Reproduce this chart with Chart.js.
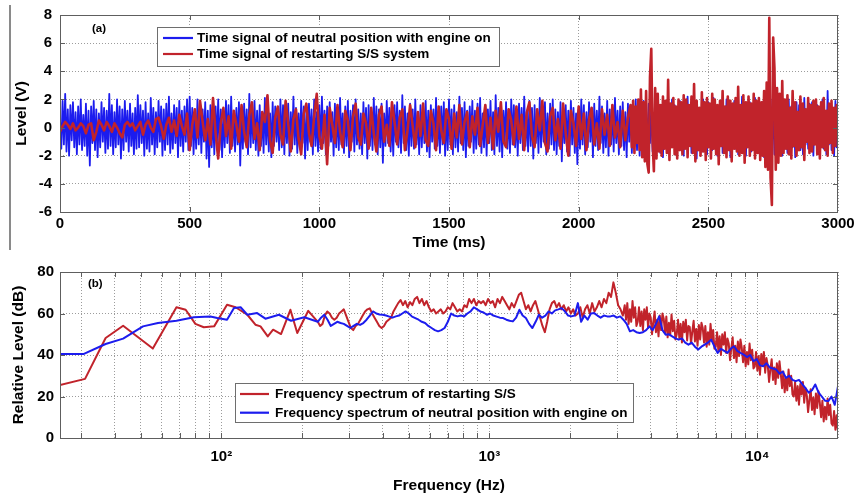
<!DOCTYPE html>
<html><head><meta charset="utf-8">
<script src="https://cdn.jsdelivr.net/npm/chart.js@4.4.1/dist/chart.umd.min.js"></script>
<style>
html,body{margin:0;padding:0;background:#fff;}
#wrap{position:relative;width:856px;height:498px;overflow:hidden;background:#fff;}
#c1{position:absolute;left:0;top:0;}
#c2{position:absolute;left:0;top:250px;}
#bar{position:absolute;left:9px;top:5px;width:2px;height:245px;background:#8a8a8a;z-index:5;}
</style></head><body>
<div id="wrap"><canvas id="c1" width="856" height="250"></canvas><canvas id="c2" width="856" height="248"></canvas><div id="bar"></div></div>
<script>
// ---------------- (a) time signals ----------------
const timeTicks = [0, 500, 1000, 1500, 2000, 2500, 3000];
const levelTicks = [-6, -4, -2, 0, 2, 4, 6, 8];

// neutral position, engine on: one sample every 5 ms, 0..3000 ms
const neutralStepMs = 5;
const neutralSignal = [
 0.6,-1.5,1.9,-1.2,2.4,-1.7,1.3,-2.0,1.6,-0.9,1.8,-1.4,1.1,-1.9,1.5,-1.2,2.0,-1.6,0.9,-1.3,
 1.7,-2.0,1.2,-2.7,1.5,-1.1,1.9,-1.6,1.3,-2.1,1.0,-1.4,1.8,-1.0,1.4,-1.8,1.2,-1.5,2.4,-1.3,
 1.6,-1.9,1.1,-1.4,2.0,-1.2,1.5,-2.2,1.3,-1.6,1.9,-1.0,1.2,-1.7,1.7,-1.3,1.0,-1.9,1.4,-1.5,
 2.3,-1.4,1.6,-1.1,1.2,-2.0,1.8,-1.5,1.0,-1.7,2.1,-1.2,1.4,-1.9,1.1,-1.4,1.9,-1.0,1.5,-2.0,
 1.3,-1.6,1.7,-1.2,2.2,-1.8,1.0,-1.5,1.6,-1.1,1.4,-2.1,1.9,-1.3,1.2,-1.7,1.5,-1.0,2.0,-1.6,
 2.2,-1.3,1.4,-1.9,1.1,-1.5,2.0,-1.2,1.7,-1.8,1.3,-1.0,1.8,-2.2,1.2,-2.8,1.6,-1.4,1.0,-1.9,
 1.5,-1.2,2.0,-1.6,1.3,-2.1,1.1,-1.4,1.9,-1.1,1.6,-1.8,2.2,-1.3,1.0,-1.7,1.4,-1.2,1.8,-2.7,
 1.2,-1.5,1.7,-1.0,1.3,-1.9,2.4,-1.4,1.5,-1.1,1.9,-1.6,1.2,-2.0,1.6,-1.3,1.1,-1.8,2.1,-1.2,
 1.4,-1.7,1.0,-2.1,1.8,-1.3,1.5,-1.0,1.2,-1.6,2.0,-1.4,1.6,-1.9,1.3,-1.1,1.7,-2.0,1.1,-1.5,
 2.2,-1.2,1.4,-1.8,1.0,-1.4,1.9,-1.1,1.5,-2.2,1.2,-1.6,1.7,-1.0,1.3,-1.9,2.0,-1.3,1.1,-1.7,
 1.6,-1.5,2.2,-1.1,1.2,-1.9,1.5,-1.3,1.8,-1.0,1.1,-2.0,1.7,-1.4,1.4,-1.6,2.1,-1.2,1.0,-1.8,
 1.5,-1.3,1.9,-2.1,1.2,-1.0,1.6,-1.7,2.0,-1.2,1.3,-1.5,1.0,-1.9,1.8,-1.1,1.4,-2.2,1.6,-1.3,
 1.1,-1.6,2.1,-1.2,1.5,-1.9,1.3,-1.4,1.7,-2.5,1.0,-1.3,1.9,-1.1,1.4,-1.7,1.2,-2.0,1.6,-1.0,
 1.8,-1.4,1.2,-1.8,2.3,-1.1,1.5,-1.6,1.0,-2.0,1.7,-1.3,1.3,-1.5,2.0,-1.2,1.1,-1.9,1.6,-1.4,
 1.4,-1.1,1.9,-1.7,1.2,-2.1,1.6,-1.0,1.3,-1.5,2.1,-1.3,1.0,-1.8,1.5,-1.2,1.8,-2.0,1.1,-1.6,
 2.0,-1.2,1.3,-1.9,1.6,-1.4,1.1,-1.7,2.2,-1.1,1.4,-1.6,1.8,-2.1,1.2,-1.3,1.5,-1.0,1.9,-1.8,
 1.2,-1.5,1.7,-1.2,2.1,-1.8,1.0,-1.4,1.6,-2.0,1.3,-1.1,1.9,-1.6,1.1,-1.9,2.3,-1.3,1.4,-1.7,
 1.5,-2.1,1.2,-1.0,1.8,-1.5,1.3,-1.8,2.0,-1.2,1.6,-1.4,1.0,-2.0,1.7,-1.1,1.4,-1.6,2.2,-1.3,
 1.1,-1.7,1.9,-1.3,1.4,-2.2,1.6,-1.1,1.2,-1.8,2.1,-1.4,1.5,-1.0,1.8,-1.9,1.0,-1.5,1.7,-1.2,
 2.0,-1.6,1.3,-1.9,1.1,-1.3,1.8,-2.4,1.5,-1.1,1.6,-1.7,1.2,-2.0,1.9,-1.2,1.4,-1.8,1.0,-2.6,
 1.3,-1.5,2.0,-1.2,1.6,-1.9,1.1,-1.4,1.8,-1.0,1.4,-2.1,1.7,-1.3,1.2,-1.6,2.2,-1.1,1.5,-1.8,
 1.0,-1.4,1.9,-2.0,1.3,-1.2,1.6,-1.7,2.1,-1.1,1.2,-1.9,1.5,-1.3,1.8,-1.6,1.1,-2.1,1.7,-1.0,
 1.6,-1.8,1.2,-1.3,2.0,-1.6,1.4,-2.0,1.1,-1.2,1.9,-1.5,1.3,-1.9,1.7,-1.1,1.5,-1.7,1.0,-1.4,
 2.1,-1.3,1.4,-1.8,1.2,-2.1,1.8,-1.0,1.5,-1.6,1.1,-1.4,2.0,-1.2,1.6,-1.9,1.3,-1.5,1.9,-1.1,
 1.2,-2.0,1.7,-1.4,2.2,-1.2,1.1,-1.8,1.6,-1.3,1.9,-2.2,1.4,-1.0,1.3,-1.7,2.0,-1.5,1.2,-1.9,
 1.8,-1.1,1.3,-1.6,2.1,-1.4,1.0,-2.0,1.5,-1.2,1.7,-1.8,1.2,-1.3,2.0,-1.6,1.4,-2.1,1.1,-1.2,
 1.9,-1.5,1.2,-1.9,1.6,-1.1,2.2,-1.4,1.3,-2.0,1.5,-1.2,1.8,-1.7,1.0,-1.5,2.1,-1.3,1.4,-1.8,
 1.3,-1.2,1.8,-2.1,1.1,-1.6,1.7,-1.0,2.0,-1.4,1.2,-1.9,1.6,-1.3,1.9,-1.1,1.4,-2.0,1.5,-1.5,
 1.1,-1.8,2.0,-1.2,1.5,-1.4,1.2,-2.1,1.8,-1.0,1.6,-1.6,1.3,-1.9,2.1,-1.2,1.0,-1.5,1.7,-1.3,
 1.8,-2.0,1.2,-1.1,1.6,-1.7,1.4,-1.3,2.0,-1.5,1.1,-1.9,2.6,-1.2,1.5,-1.6,1.3,-2.0,1.9,-1.4,
 0.5
];

// restarting S/S: every 10 ms from 0 to 2190 ms, then every 5 ms from 2200 to 3000 ms
const restartEarlyStepMs = 10;
const restartSignalEarly = [
 -0.3,0.1,0.4,0.2,-0.1,0.3,-0.2,0.0,0.3,0.1,-0.4,0.2,0.3,-0.9,-0.3,0.5,0.2,-0.2,0.4,0.1,
 -0.3,0.3,0.0,-0.4,-0.7,0.2,0.4,0.1,0.3,-0.2,0.1,0.4,-0.5,0.2,0.5,0.0,-0.3,0.6,0.7,0.1,
 -0.8,0.2,0.7,-0.3,0.5,-0.6,0.9,0.1,-0.5,1.0,-1.6,0.2,1.3,-0.7,1.9,0.4,-0.9,0.6,-1.2,2.1,
 -0.4,-2.2,0.3,1.4,-0.6,0.8,-1.5,1.2,0.2,-1.0,1.6,-0.3,-1.4,0.9,1.8,-0.8,0.3,-1.6,1.1,0.4,
 2.3,-0.9,-1.8,0.7,1.5,-0.5,-1.2,1.9,0.3,-1.7,0.6,1.3,-0.8,-1.9,1.0,1.7,-0.4,-1.3,0.8,2.4,
 -0.6,-1.5,0.9,-2.6,1.4,0.2,-1.1,1.6,-0.3,-1.4,1.2,0.5,-1.6,0.8,1.7,-0.7,-1.2,1.0,0.3,-1.5,
 1.4,-0.4,-1.7,0.9,1.5,-1.0,0.2,-1.3,1.8,0.4,-1.2,0.7,1.3,-1.6,-0.2,1.6,0.1,-1.4,1.1,-0.6,
 1.7,-0.9,-1.3,1.2,0.3,-1.6,1.5,-0.2,-1.1,1.3,0.6,-1.5,1.0,-0.7,1.6,-1.2,0.4,1.1,-1.4,0.8,
 -0.5,1.4,-1.3,0.2,1.6,-1.1,0.7,-1.5,1.2,-0.3,1.8,-1.0,-1.4,1.3,0.5,-1.2,1.5,-0.8,0.9,-1.6,
 1.1,1.8,-0.6,-1.4,1.3,-0.2,1.9,-1.1,-1.7,0.8,1.4,-0.9,0.6,-1.5,1.7,-0.4,-2.0,1.2,0.3,-1.3,
 1.5,-0.8,1.0,-1.6,0.6,1.4,-1.2,0.3,-1.5,1.3,-0.5,0.9,-1.3,1.6,-0.7,0.4,-1.4,1.2,-0.9,0.7
];
const restartLateStartMs = 2200, restartLateStepMs = 5;
const restartSignalLate = [
 1.6,-1.4,1.9,-1.8,1.5,-1.1,2.0,-1.6,2.7,-2.1,1.8,-2.4,2.6,-2.6,-3.2,3.6,5.6,-1.0,-3.1,2.8,
 -2.2,2.4,-1.7,1.6,-2.0,2.2,-1.5,1.9,-1.8,3.4,-2.3,1.7,-1.4,2.1,-1.9,1.5,-2.2,2.0,-1.6,1.8,
 -1.9,2.3,-1.5,2.0,-2.1,1.6,-1.3,2.2,-1.8,3.1,-2.4,1.9,-1.6,1.4,-2.0,2.5,-1.7,1.8,-2.3,2.1,
 -1.4,1.7,-2.2,2.4,-1.5,2.0,-1.9,1.6,-2.6,1.9,-1.3,2.6,-1.8,1.5,-2.1,2.2,-1.6,1.9,-2.4,1.7,
 -1.5,2.1,-1.7,2.9,-2.0,1.6,-1.8,2.3,-2.5,1.8,-1.4,2.2,-2.0,1.7,-1.6,2.4,-2.2,1.9,-1.8,2.1,
 -2.3,1.8,-2.0,2.6,-2.8,3.2,-3.0,7.8,-3.6,-5.5,6.4,4.2,-3.0,2.8,-2.5,2.4,-2.0,3.3,-1.8,2.0,
 -1.5,2.3,-1.9,1.4,-2.2,2.6,-1.3,1.8,-2.0,1.1,-1.6,2.2,-1.4,1.7,-2.3,1.3,-1.0,2.1,-1.8,1.6,
 -1.7,1.9,-1.2,2.0,-1.9,1.5,-2.2,1.8,-1.4,2.1,-1.6,1.2,-2.0,1.7,-1.1,1.9,-1.8,1.4,-1.3,1.6,
 0.8
];

// ---------------- (b) spectra ----------------
const freqMinHz = 25, freqMaxHz = 20000;
const freqGridHz = [30,40,50,60,70,80,90,100,200,300,400,500,600,700,800,900,1000,2000,3000,4000,5000,6000,7000,8000,9000,10000,20000];
const freqTickLabels = {100: '10\u00B2', 1000: '10\u00B3', 10000: '10\u2074'};
const dbTicks = [0, 20, 40, 60, 80];

// low-frequency vertices (Hz, dB)
const lowFreqRestart = [25,31,37,43,55.5,68,73.6,80,86,94,105,113,125,134,140,149,156,167,181,192,211];
const lowDbRestart   = [25.5,28.5,48.2,54.1,43.1,63,61.8,55,53.4,53.8,64.2,63,59.4,54.6,53.8,49,52.2,50.1,61.8,50.6,61.3];
const lowFreqNeutral = [25,30.7,37,43,51,58,68,79,91,96.6,105,111.5,118,125,136,146,164,182,204];
const lowDbNeutral   = [40.5,40.5,45.3,47.9,53.8,55.4,56.5,58.2,58.6,57.8,57,62.6,63,59.4,60.2,57.5,59.4,56.5,58.2];

// restarting S/S: values on log-spaced frequency grids (229-3150 Hz, then 3200-20000 Hz)
const midStartHz = 229, midEndHz = 3150;
const midDbRestart = [
 56,54,55,59,61,60,58,57,58,60,
 61,62,59,56,53,52,54,55,57,59,
 61,62,62.5,60,58,56,54,53,54,56,
 57,58,61,63,65,66.5,64,66,63,65.5,
 64,67,68,65,67,64,66,63,61,62,
 60,61,62,60,61,63,62,65,63,61,
 62,61,64,63,67,65,67,64,66,65,
 66,64,67,65,66,63,67,65,68,66,
 64,62,65,63,66,69,70,66,62,64,
 61,64,66,62,58,54,51,56,62,65,
 66,63,65,62,64,61,63,60,62,59,
 60,63,58,62,64,60,65,61,63,66,
 63,67,65,70,68,75,70,64,62,59
];
const highStartHz = 3200;
const highDbRestart = [
 64,57,65,55,62,56,66,58,63,54,
 56,63,54,61,52,62,57,63,53,60,
 58,50,56,61,51,57,49,59,52,60,
 57.5,50.5,58.5,48.5,55.5,49.5,59.5,51.5,56.5,47.5,
 50,57,48,55,46,56,51,57,47,54,
 53.5,45.5,51.5,56.5,46.5,52.5,44.5,54.5,47.5,55.5,
 53,46,54,44,51,45,55,47,52,43,
 44,51,42,49,40,50,45,51,41,48,
 45.5,37.5,43.5,48.5,38.5,44.5,36.5,46.5,39.5,47.5,
 43.5,36.5,44.5,34.5,41.5,35.5,45.5,37.5,42.5,33.5,
 34.5,41.5,32.5,39.5,30.5,40.5,35.5,41.5,31.5,38.5,
 35,27,33,38,28,34,26,36,29,37,
 31,24,32,22,29,23,33,25,30,21,
 20,27,18,25,16,26,21,27,17,24,
 20.5,12.5,18.5,23.5,13.5,19.5,11.5,21.5,14.5,22.5,
 17,10,18,8,15,9,19,11,16,7,
 6,13,4,11,3
];

// neutral position: values on a log-spaced frequency grid 229-20000 Hz
const denseStartHz = 229;
const denseDbNeutral = [
 56,58,59.4,57,54,55,56,55.4,55,54,
 53,54,55,54.5,55.4,57,59,61,60,59.5,
 59.4,59,58.5,58,58.6,59,60,61,60,58.5,
 57.8,57,56,55.4,54,53,52,51.4,52,53,
 56,60,59,58.6,59,58.6,60,61,63,62,
 61,60.5,59.4,60,59,58.5,58,57.8,57,56.5,
 56.2,58,61.8,59,57.8,55,53,56,59.4,58,
 59,61,60,61.5,62,62.6,61,59,58.6,59,
 65,56,59,57,60,60.2,59,58,59,58.6,
 58.6,59,58,58.6,57,55,51.4,52,51,50.6,
 51,52,53.8,52,55,58.6,52,49.8,50,49,
 48,47.4,48,46,45,46,44,42.6,44,45,
 46,47.4,44,41,43,42,41,43,44.2,42,
 41,40.2,39,40,37,38,35,34.6,36,34,
 33.5,33,31,32,29,30,28,27.4,28,26,
 24,21.8,23,25.8,22,20,18,17.8,20,16,
 25
];

const RED = '#c1232b', BLUE = '#1c1cee';
const FONT = "'Liberation Sans', Arial, Helvetica, sans-serif";
const tickFont = {family: FONT, size: 15, weight: 'bold', lineHeight: 1};
const titleFont = {family: FONT, size: 15.5, weight: 'bold', lineHeight: 1};
const gridOpts = {color: '#9c9c9c', lineWidth: 1, drawTicks: false};
const borderOpts = {display: false, dash: [1, 2]};
const FRAME = '#5e5e5e';

function stepData(arr, t0, dt) { return arr.map((v, i) => ({x: t0 + i * dt, y: v})); }
function logGrid(f0, f1, n) { return Array.from({length: n}, (_, i) => f0 * Math.pow(f1 / f0, i / (n - 1))); }
function onGrid(vals, f0, f1) { const g = logGrid(f0, f1, vals.length); return vals.map((v, i) => ({x: g[i], y: v})); }
function pairs(fs, ds) { return fs.map((f, i) => ({x: f, y: ds[i]})); }

function decor(cfg) {
  return {
    id: 'decor',
    afterDatasetsDraw(chart) {
      const ctx = chart.ctx, a = chart.chartArea, xs = chart.scales.x, ys = chart.scales.y;
      ctx.save();
      ctx.setLineDash([]);
      ctx.strokeStyle = FRAME; ctx.lineWidth = 1;
      const L = 5;
      ctx.beginPath();
      xs.ticks.forEach(t => {
        const p = Math.round(xs.getPixelForValue(t.value)) + 0.5;
        if (p < a.left + 2 || p > a.right - 2) return;
        ctx.moveTo(p, a.top); ctx.lineTo(p, a.top + L);
        ctx.moveTo(p, a.bottom); ctx.lineTo(p, a.bottom - L);
      });
      ys.ticks.forEach(t => {
        const p = Math.round(ys.getPixelForValue(t.value)) + 0.5;
        if (p < a.top + 2 || p > a.bottom - 2) return;
        ctx.moveTo(a.left, p); ctx.lineTo(a.left + L, p);
        ctx.moveTo(a.right, p); ctx.lineTo(a.right - L, p);
      });
      ctx.stroke();
      ctx.strokeRect(Math.round(a.left) + 0.5, Math.round(a.top) + 0.5, Math.round(a.right - a.left) - 1, Math.round(a.bottom - a.top));
      ctx.fillStyle = '#000';
      ctx.font = 'bold 11.5px ' + FONT;
      ctx.textBaseline = 'middle'; ctx.textAlign = 'left';
      ctx.fillText(cfg.panel, cfg.panelX, cfg.panelY);
      const lg = cfg.legend;
      ctx.fillStyle = '#fff';
      ctx.fillRect(lg.x, lg.y, lg.w, lg.h);
      ctx.strokeStyle = '#6e6e6e'; ctx.lineWidth = 1;
      ctx.strokeRect(lg.x + 0.5, lg.y + 0.5, lg.w, lg.h);
      ctx.font = 'bold 13.5px ' + FONT;
      lg.order.forEach((di, k) => {
        const ds = chart.data.datasets[di];
        const y = lg.y + lg.first + k * lg.gap;
        ctx.strokeStyle = ds.borderColor; ctx.lineWidth = 2.2;
        ctx.beginPath(); ctx.moveTo(lg.x + lg.l0, y); ctx.lineTo(lg.x + lg.l1, y); ctx.stroke();
        ctx.fillStyle = '#000';
        ctx.fillText(ds.label, lg.x + lg.tx, y + 0.5);
      });
      ctx.restore();
    }
  };
}

const common = {
  responsive: false, animation: false, devicePixelRatio: 1, events: [],
  plugins: {legend: {display: false}, tooltip: {enabled: false}},
  elements: {point: {radius: 0}, line: {tension: 0, borderJoinStyle: 'round'}}
};

const restartData = stepData(restartSignalEarly, 0, restartEarlyStepMs)
  .concat(stepData(restartSignalLate, restartLateStartMs, restartLateStepMs));

function fitX(h) { return s => { s.height = h; s.paddingLeft = 0; s.paddingRight = 0; }; }
function fitY(w) { return s => { s.width = w; s.paddingTop = 0; s.paddingBottom = 0; }; }

new Chart(document.getElementById('c1'), {
  type: 'line',
  data: {datasets: [
    {label: 'Time signal of restarting S/S system', data: restartData, borderColor: RED, borderWidth: 2.6, fill: false},
    {label: 'Time signal of neutral position with engine on', data: stepData(neutralSignal, 0, neutralStepMs), borderColor: BLUE, borderWidth: 1.8, fill: false}
  ]},
  options: Object.assign({}, common, {
    layout: {padding: {left: 0, right: 18, top: 15, bottom: 0}},
    scales: {
      x: {type: 'linear', min: 0, max: 3000,
          afterBuildTicks: s => { s.ticks = timeTicks.map(v => ({value: v})); },
          afterFit: fitX(38),
          grid: gridOpts, border: borderOpts,
          ticks: {font: tickFont, color: '#000', padding: 4.5, maxRotation: 0, autoSkip: false, callback: v => String(v)},
          title: {display: true, text: 'Time (ms)', font: titleFont, color: '#000', padding: {top: 0, bottom: 0}}},
      y: {type: 'linear', min: -6, max: 8,
          afterBuildTicks: s => { s.ticks = levelTicks.map(v => ({value: v})); },
          afterFit: fitY(60),
          grid: gridOpts, border: borderOpts,
          ticks: {font: tickFont, color: '#000', padding: 8, autoSkip: false, callback: v => String(v)},
          title: {display: true, text: 'Level (V)', font: titleFont, color: '#000', padding: {top: 14, bottom: 0}}}
    }
  }),
  plugins: [decor({panel: '(a)', panelX: 92, panelY: 29,
    legend: {x: 157, y: 27, w: 342, h: 39, first: 11, gap: 16, l0: 6, l1: 36, tx: 40, order: [1, 0]}})]
});

const restartSpec = pairs(lowFreqRestart, lowDbRestart)
  .concat(onGrid(midDbRestart, midStartHz, midEndHz))
  .concat(onGrid(highDbRestart, highStartHz, freqMaxHz));
const neutralSpec = pairs(lowFreqNeutral, lowDbNeutral)
  .concat(onGrid(denseDbNeutral, denseStartHz, freqMaxHz));

new Chart(document.getElementById('c2'), {
  type: 'line',
  data: {datasets: [
    {label: 'Frequency spectrum of neutral position with engine on', data: neutralSpec, borderColor: BLUE, borderWidth: 2, fill: false},
    {label: 'Frequency spectrum of restarting S/S', data: restartSpec, borderColor: RED, borderWidth: 2, fill: false}
  ]},
  options: Object.assign({}, common, {
    layout: {padding: {left: 0, right: 18, top: 22, bottom: 0}},
    scales: {
      x: {type: 'logarithmic', min: freqMinHz, max: freqMaxHz,
          afterBuildTicks: s => { s.ticks = freqGridHz.map(v => ({value: v})); },
          afterFit: fitX(60),
          grid: gridOpts, border: borderOpts,
          ticks: {font: tickFont, color: '#000', padding: 11, maxRotation: 0, autoSkip: false,
                  callback: v => freqTickLabels[v] || ''},
          title: {display: true, text: 'Frequency (Hz)', font: titleFont, color: '#000', padding: {top: 0, bottom: 4.5}}},
      y: {type: 'linear', min: 0, max: 80,
          afterBuildTicks: s => { s.ticks = dbTicks.map(v => ({value: v})); },
          afterFit: fitY(60),
          grid: gridOpts, border: borderOpts,
          ticks: {font: tickFont, color: '#000', padding: 6, autoSkip: false},
          title: {display: true, text: 'Relative Level (dB)', font: titleFont, color: '#000', padding: {top: 11, bottom: 0}}}
    }
  }),
  plugins: [decor({panel: '(b)', panelX: 88, panelY: 33.5,
    legend: {x: 235, y: 133, w: 398, h: 39, first: 11, gap: 18.7, l0: 5, l1: 34, tx: 40, order: [1, 0]}})]
});
</script></body></html>
